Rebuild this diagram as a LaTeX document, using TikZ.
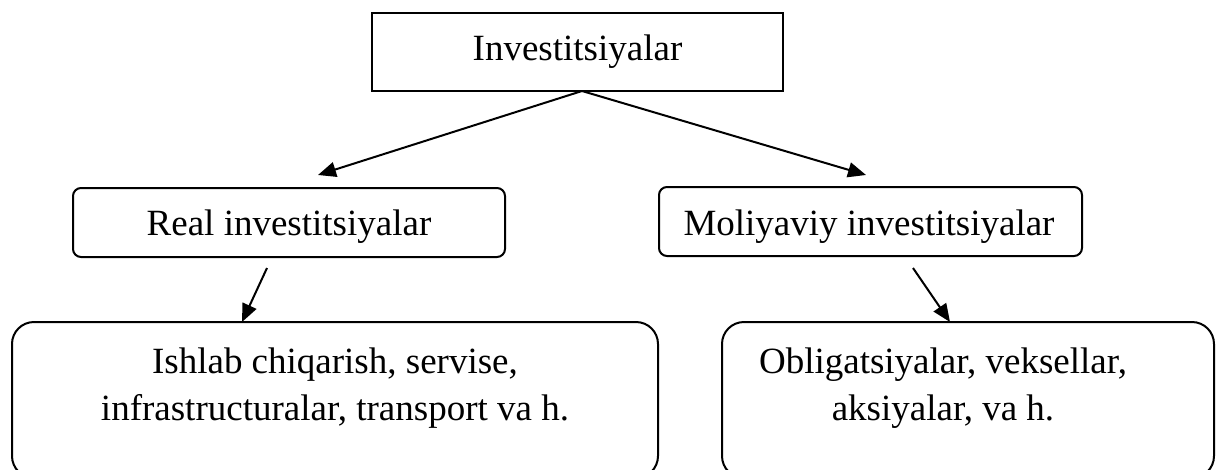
\documentclass[tikz,border=0pt]{standalone}
\usepackage{fontspec}
\setmainfont{Liberation Serif}
\usetikzlibrary{arrows.meta}
\begin{document}
\begin{tikzpicture}[x=1pt,y=-1pt,
  lbl/.style={font=\fontsize{37}{47}\selectfont, inner sep=0pt, anchor=base, align=center},
  sqbox/.style={draw, line width=2pt, rectangle, inner sep=0pt},
  rbox/.style={draw, line width=2pt, rectangle, rounded corners=8pt, inner sep=0pt},
  bigbox/.style={draw, line width=2pt, rectangle, rounded corners=22pt, inner sep=0pt},
  link/.style={line width=2pt, -{Triangle[length=18pt,width=15pt]}}]
  \useasboundingbox (0,0) rectangle (1216,469);
  \begin{scope}
  \clip (0,0) rectangle (1216,469);
  % boxes
  \node[sqbox, minimum width=411pt, minimum height=78pt] (top) at (577.5,52) {};
  \node[rbox, minimum width=432pt, minimum height=69pt] (real) at (289,222.5) {};
  \node[rbox, minimum width=423pt, minimum height=69pt] (mol) at (870.5,221.5) {};
  \node[bigbox, minimum width=646pt, minimum height=156pt] (prod) at (335,400) {};
  \node[bigbox, minimum width=492pt, minimum height=156pt] (sec) at (968,400) {};
  % labels (base = baseline of the last line)
  \node[lbl] (tl) at (577.5,60) {Investitsiyalar};
  \node[lbl] (rl) at (289,235) {Real investitsiyalar};
  \node[lbl] (ml) at (869,235) {Moliyaviy investitsiyalar};
  \node[lbl] (pl) at (335,420) {Ishlab chiqarish, servise,\\infrastructuralar, transport va h.};
  \node[lbl] (sl) at (943,420) {Obligatsiyalar, veksellar,\\aksiyalar, va h.};
  % connectors
  \coordinate (split) at (582,91);
  \coordinate (toreal) at (318,175);
  \coordinate (tomol) at (866,175);
  \coordinate (fromreal) at (267,268);
  \coordinate (frommol) at (913,268);
  \coordinate (intoprod) at (242,322);
  \coordinate (intosec) at (950,322);
  \draw[link] (split) -- (toreal);
  \draw[link] (split) -- (tomol);
  \draw[link] (fromreal) -- (intoprod);
  \draw[link] (frommol) -- (intosec);
  \end{scope}
\end{tikzpicture}
\end{document}
